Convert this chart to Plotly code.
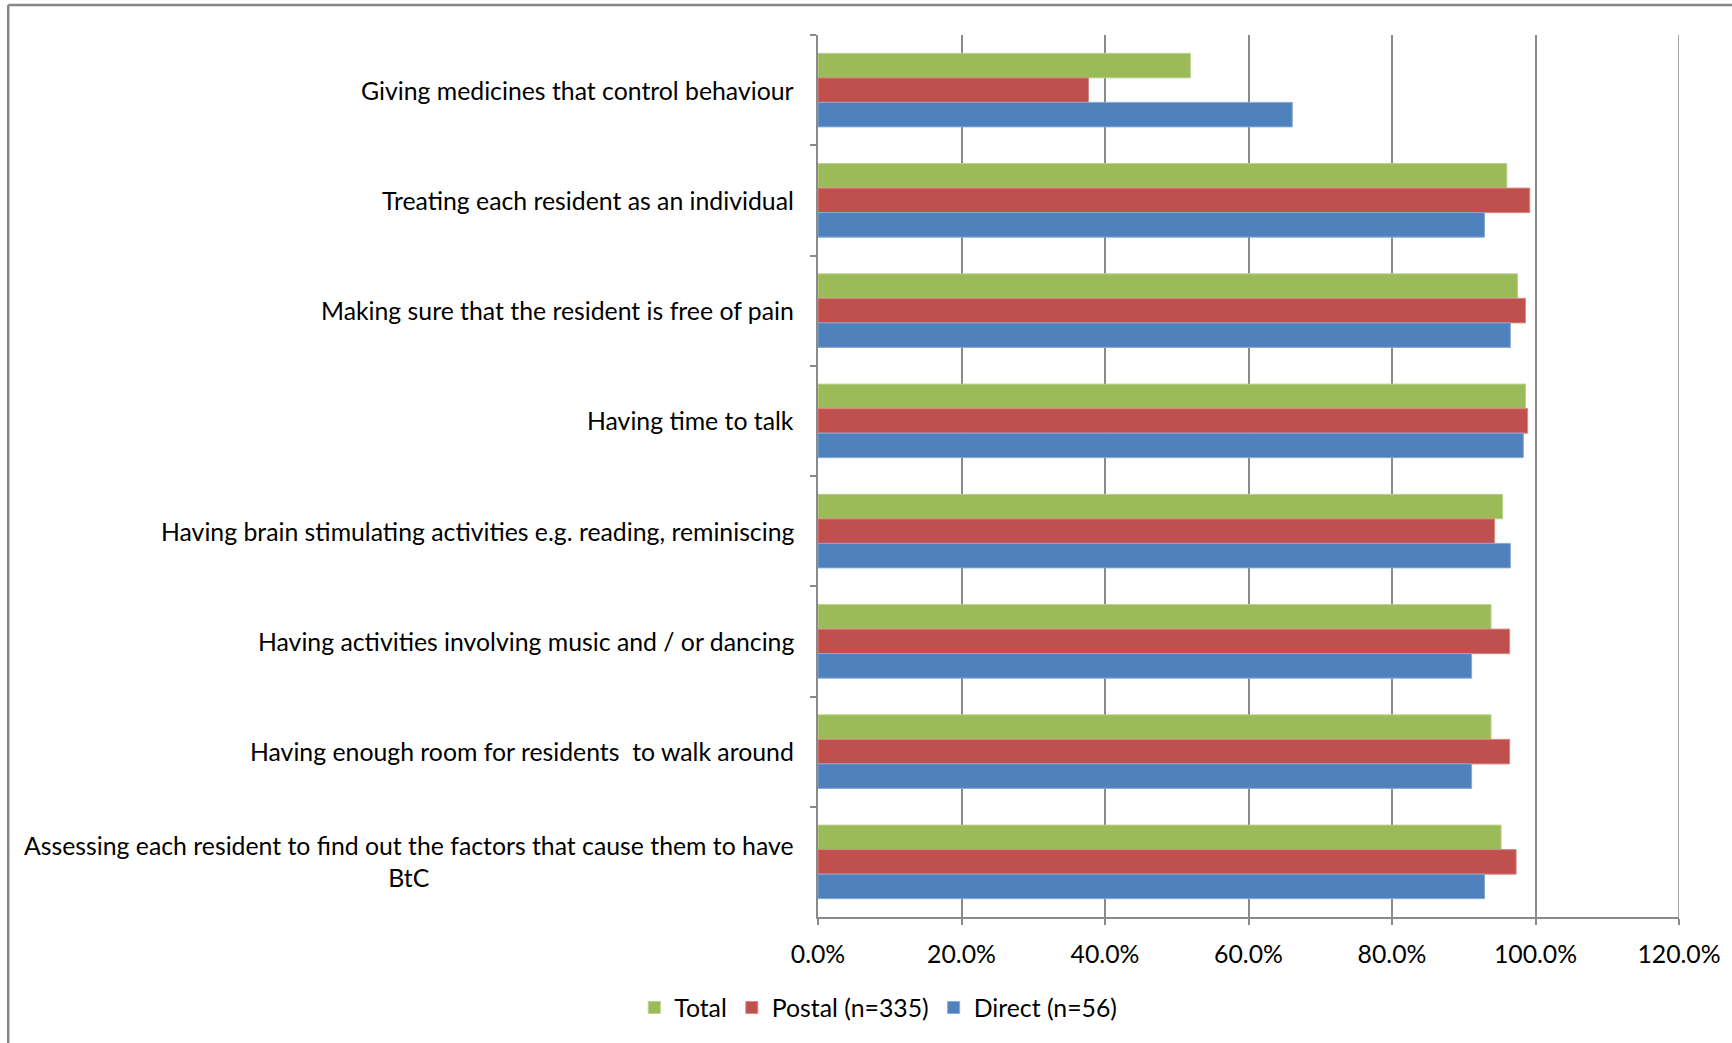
import plotly.graph_objects as go

# Statements, listed top to bottom as they appear on the chart
categories = [
    "Giving medicines that control behaviour",
    "Treating each resident as an individual",
    "Making sure that the resident is free of pain",
    "Having time to talk",
    "Having brain stimulating activities e.g. reading, reminiscing",
    "Having activities involving music and / or dancing",
    "Having enough room for residents  to walk around",
    "Assessing each resident to find out the factors that cause them to have<br>BtC",
]

# Percentage of respondents in each group
total = [51.9, 96.0, 97.5, 98.6, 95.4, 93.8, 93.8, 95.2]
postal = [37.7, 99.2, 98.6, 98.9, 94.3, 96.4, 96.4, 97.3]
direct = [66.1, 92.9, 96.5, 98.3, 96.5, 91.1, 91.1, 92.9]

series_names = ["Total", "Postal (n=335)", "Direct (n=56)"]
x_ticks = [0, 20, 40, 60, 80, 100, 120]
x_tick_labels = ["0.0%", "20.0%", "40.0%", "60.0%", "80.0%", "100.0%", "120.0%"]

FONT = "Lato, 'Open Sans', sans-serif"
FS = 24.8
GRID = "#8a8a8a"

fig = go.Figure()
for name, vals, fill, edge in [
    (series_names[0], total, "#9BBB59", "#B9D08C"),
    (series_names[1], postal, "#C0504D", "#D88683"),
    (series_names[2], direct, "#4F81BD", "#86A9D6"),
]:
    fig.add_trace(go.Bar(
        y=categories, x=vals, name=name, orientation="h",
        marker=dict(color=fill, line=dict(color=edge, width=1)),
        hoverinfo="x+name",
    ))

# Category labels, centred line by line like the spreadsheet original
for cat in categories:
    fig.add_annotation(
        x=0, xref="paper", y=cat, yref="y",
        text=cat, showarrow=False, xanchor="right", yanchor="middle",
        align="center", xshift=-22,
        font=dict(family=FONT, size=FS, color="#000000"),
    )

# Right-hand gridline at the end of the value axis
fig.add_shape(type="line", xref="x", yref="paper",
              x0=x_ticks[-1], x1=x_ticks[-1], y0=0, y1=1,
              line=dict(color=GRID, width=1.5), layer="below")

# Outer chart frame (top and left edges)
fig.add_shape(type="line", xref="paper", yref="paper",
              x0=-0.9405, x1=1.2, y0=1.034, y1=1.034,
              line=dict(color="#868686", width=2.5))
fig.add_shape(type="line", xref="paper", yref="paper",
              x0=-0.9405, x1=-0.9405, y0=-0.2, y1=1.034,
              line=dict(color="#868686", width=2.5))

fig.update_layout(
    width=1732, height=1043,
    margin=dict(l=818, r=53, t=35, b=126),
    paper_bgcolor="white", plot_bgcolor="white",
    barmode="group", bargap=0.333, bargroupgap=0,
    font=dict(family=FONT, size=FS, color="#000000"),
    legend=dict(
        orientation="h", x=0.07, xanchor="center",
        y=-0.103, yanchor="middle",
        font=dict(family=FONT, size=FS, color="#000000"),
        itemwidth=30, tracegroupgap=0,
    ),
    xaxis=dict(
        range=[0, 120], tickvals=x_ticks, ticktext=x_tick_labels,
        showgrid=True, gridcolor=GRID, gridwidth=1.5,
        showline=True, linecolor=GRID, linewidth=1.5,
        ticks="outside", ticklen=6, tickcolor=GRID, tickwidth=1.5,
        ticklabelstandoff=8, zeroline=False,
        tickfont=dict(family=FONT, size=FS, color="#000000"),
    ),
    yaxis=dict(
        autorange="reversed", showticklabels=False,
        showline=True, linecolor=GRID, linewidth=1.5,
        ticks="outside", ticklen=6, tickcolor=GRID, tickwidth=1.5,
        tickson="boundaries", showgrid=False, zeroline=False,
    ),
)

fig.write_html("out.html")
